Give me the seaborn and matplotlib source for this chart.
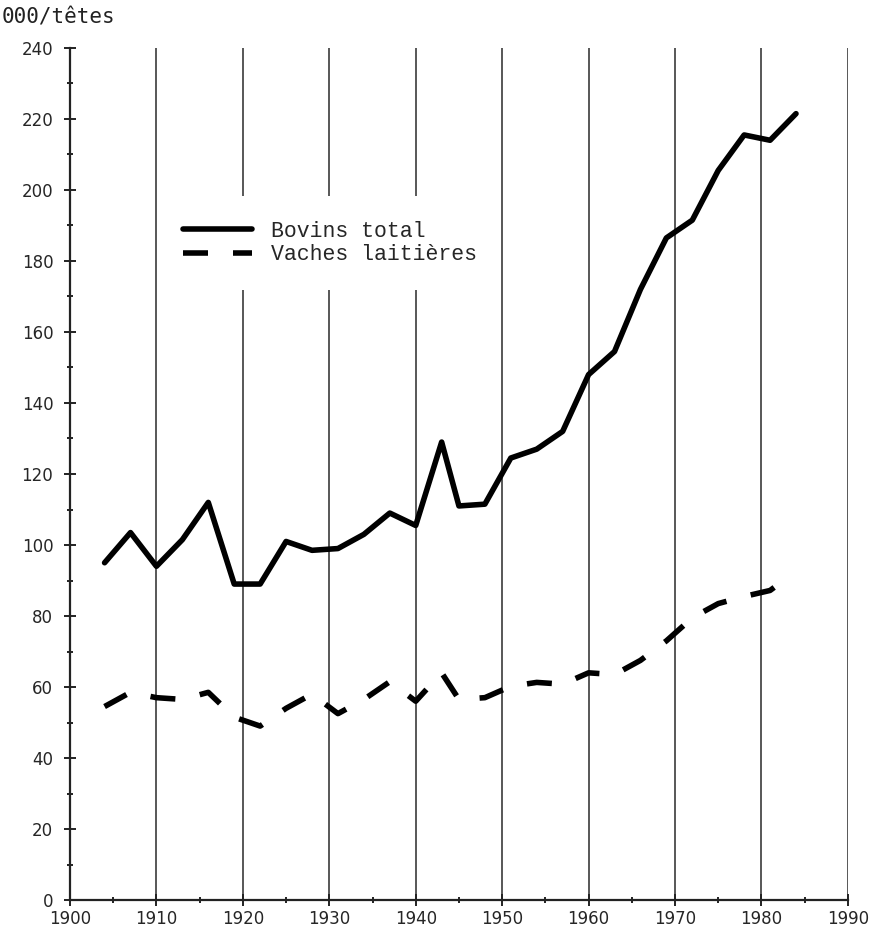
import matplotlib
matplotlib.use("Agg")
import matplotlib.pyplot as plt
import seaborn as sns
import numpy as np
from matplotlib.ticker import MultipleLocator

# Effectifs en milliers de têtes
annees = [1904, 1907, 1910, 1913, 1916, 1919, 1922, 1925, 1928, 1931,
          1934, 1937, 1940, 1943, 1945, 1948, 1951, 1954, 1957, 1960,
          1963, 1966, 1969, 1972, 1975, 1978, 1981, 1984]
bovins_total = [95, 103.5, 94, 101.5, 112, 89, 89, 101, 98.5, 99,
                103, 109, 105.5, 129, 111, 111.5, 124.5, 127, 132, 148,
                154.5, 172, 186.5, 191.5, 205.5, 215.5, 214, 221.5]

annees_vaches = [1904, 1907, 1910, 1913, 1916, 1919, 1922, 1925, 1928, 1931,
                 1934, 1937, 1940, 1943, 1945, 1948, 1951, 1954, 1957, 1960,
                 1963, 1966, 1969, 1972, 1975, 1978, 1981, 1982]
vaches_laitieres = [54.5, 58.5, 57, 56.5, 58.5, 51.5, 49, 54, 58, 52.5,
                    56.5, 61.5, 56, 64, 56.5, 57, 60.2, 61.3, 60.8, 64,
                    63.5, 67.5, 73, 79.5, 83.5, 85.5, 87.2, 89]

sns.set_style("ticks")

fig = plt.figure(figsize=(8.75, 9.35), dpi=100)
ax = fig.add_axes([0.08, 0.0374, 0.889, 0.9113])

sns.lineplot(x=annees, y=bovins_total, ax=ax, color="black", lw=4,
             label="Bovins total")
sns.lineplot(x=annees_vaches, y=vaches_laitieres, ax=ax, color="black", lw=4,
             linestyle=(0, (4.5, 4.5)), label="Vaches laitières")

ax.set_xlim(1900, 1990)
ax.set_ylim(0, 240)
ax.xaxis.set_major_locator(MultipleLocator(10))
ax.xaxis.set_minor_locator(MultipleLocator(5))
ax.yaxis.set_major_locator(MultipleLocator(20))
ax.yaxis.set_minor_locator(MultipleLocator(10))

# vertical decade lines
ax.grid(axis="x", which="major", color="#2a2a2a", lw=1.1)
ax.set_axisbelow(True)

sns.despine(ax=ax, top=True, right=True)
for side in ["left", "bottom"]:
    ax.spines[side].set_linewidth(1.6)
    ax.spines[side].set_color("#222222")

ax.tick_params(which="major", direction="inout", length=8, width=1.4,
               color="#222222", labelsize=12)
ax.tick_params(which="minor", direction="inout", length=5, width=1.4,
               color="#222222")
ax.tick_params(axis="y", which="major", pad=8)
ax.tick_params(axis="x", which="major", pad=3)
for lab in ax.get_xticklabels() + ax.get_yticklabels():
    lab.set_family("DejaVu Sans")

ax.set_xlabel("")
ax.set_ylabel("")

leg = ax.legend(loc="upper left", bbox_to_anchor=(0.114, 0.826),
                borderaxespad=0, frameon=True, fancybox=False,
                framealpha=1, facecolor="white", edgecolor="white",
                handlelength=3.2, handletextpad=0.85, labelspacing=0.1,
                borderpad=1.15, prop={"family": "Liberation Mono", "size": 15.5})
leg.get_frame().set_linewidth(0)

fig.text(0.002, 0.981, "000/têtes", family="DejaVu Sans Mono", fontsize=15,
         va="center", ha="left", color="#222222")

fig.savefig("out.png", dpi=100, facecolor="white")
